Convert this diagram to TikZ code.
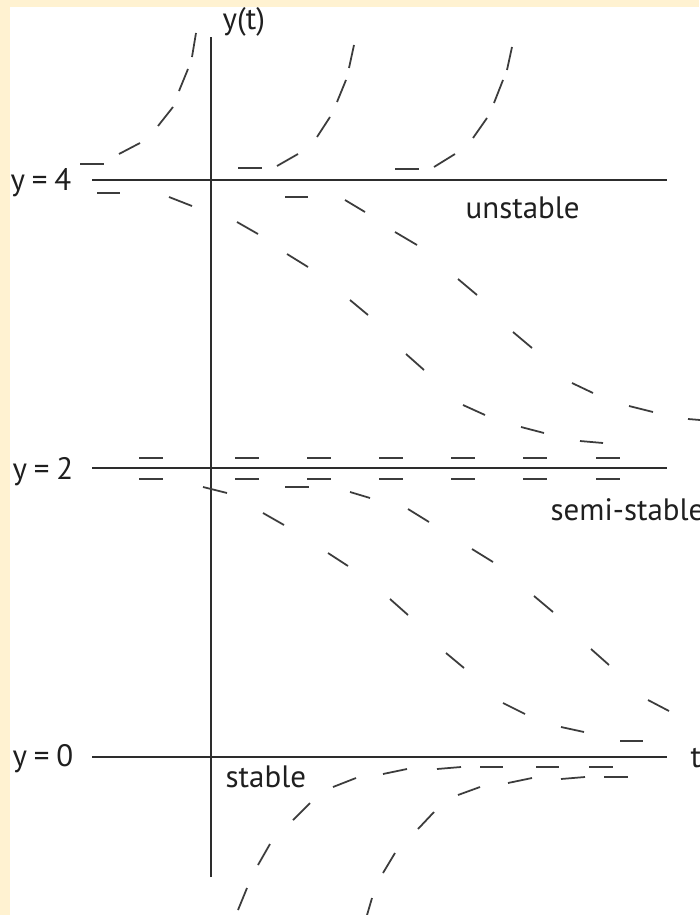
\documentclass[tikz,border=0pt]{standalone}
\usepackage{fontspec}
\setmainfont{PT Sans}
\usetikzlibrary{positioning}
\definecolor{cream}{RGB}{255,242,209}
\definecolor{axisgray}{RGB}{45,45,45}
\definecolor{dashgray}{RGB}{60,60,60}

\begin{document}
\begin{tikzpicture}[x=0.01cm, y=-0.01cm,
  axis/.style={axisgray, line width=0.75pt},
  sol/.style={dashgray, line width=0.5pt},
  lbl/.style={inner sep=0pt, font=\fontsize{8.8}{10}\selectfont, text=black!88}]
  \useasboundingbox (0,0) rectangle (699,915);
  \fill[cream] (0,0) rectangle (699,915);
  \fill[white] (10,7) rectangle (699,915);

  % axes and equilibrium lines
  \coordinate (ytop) at (211,37);
  \coordinate (ybot) at (211,877);
  \foreach \name/\py in {four/180, two/468, zero/757} {
    \coordinate (\name w) at (92,\py);
    \coordinate (\name e) at (667,\py);
    \draw[axis] (\name w) -- (\name e);
  }
  \draw[axis] (ybot) -- (ytop);

  \node[lbl, above right=0pt and 0.11cm of ytop] (ylab) {y(t)};
  \node[lbl, anchor=base west] (lfour) at (10,190) {y\hspace{0.22em}=\hspace{0.22em}4};
  \node[lbl, anchor=base west] (ltwo) at (12,479) {y\hspace{0.22em}=\hspace{0.22em}2};
  \node[lbl, anchor=base west] (lzero) at (12,766) {y\hspace{0.22em}=\hspace{0.22em}0};
  \node[lbl, anchor=base west] (tlab) at (690,767) {t};
  \node[lbl, anchor=base west] (unst) at (465,218) {unstable};
  \node[lbl, anchor=base west] (semi) at (550,520) {semi-stable};
  \node[lbl, anchor=base west] (stab) at (225,787) {stable};

  % solutions leaving y=4 upwards
  \foreach \a/\b/\c/\d in {80/164/104/164, 119/154/140/143, 158/126/173/107,
      179/91/188/69, 192/57/196/33,
      238/168/262/168, 277/166/298/154, 317/137/330/117, 337/102/346/80, 349/68/354/45,
      395/169/419/169, 434/167/455/154, 473/138/487/118, 494/103/503/80, 507/70/512/47}
    \draw[sol] (\a,\b) -- (\c,\d);

  % solutions falling from y=4 to y=2
  \foreach \a/\b/\c/\d in {97/193/120/193, 169/197/192/206, 237/222/258/234,
      287/254/308/267, 350/300/368/315, 406/354/424/370, 463/405/485/415,
      521/427/544/433, 580/441/603/443,
      285/197/308/197, 345/200/365/212, 395/232/417/245, 458/279/477/295,
      513/332/532/348, 572/383/593/393, 629/406/653/412, 688/419/712/421}
    \draw[sol] (\a,\b) -- (\c,\d);

  % solutions close to y=2
  \foreach \px in {139,235,307,379,451,523,596} {
    \draw[sol] (\px,458) -- ++(24,0);
    \draw[sol] (\px,479) -- ++(24,0);
  }

  % solutions falling from y=2 to y=0
  \foreach \a/\b/\c/\d in {285/487/309/487, 350/492/370/498, 408/509/429/522,
      472/549/493/562, 534/596/553/612, 591/649/609/665, 648/700/669/711,
      203/487/227/493, 263/513/284/525, 328/553/348/566, 390/599/408/615,
      446/653/464/668, 503/703/525/714, 561/727/584/732, 620/741/643/741}
    \draw[sol] (\a,\b) -- (\c,\d);

  % solutions rising to y=0
  \foreach \a/\b/\c/\d in {238/910/247/888, 258/865/270/844, 293/820/310/803,
      333/787/356/778, 383/774/407/769, 437/769/461/767, 480/767/503/767,
      536/767/559/767, 589/767/613/767,
      365/922/372/898, 383/873/395/853, 418/829/434/812, 458/795/480/787,
      508/783/532/778, 561/779/585/777, 604/777/628/777}
    \draw[sol] (\a,\b) -- (\c,\d);
\end{tikzpicture}
\end{document}
